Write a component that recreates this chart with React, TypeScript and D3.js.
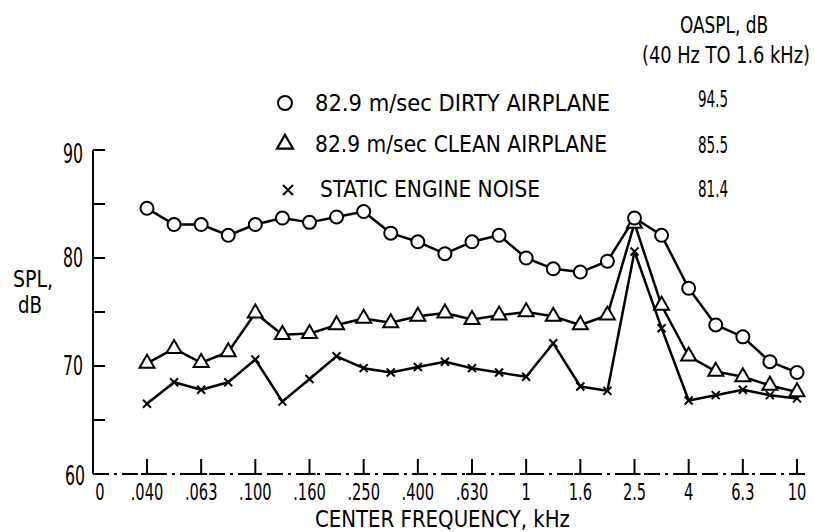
import React, { useLayoutEffect, useRef, useState } from "react";
import * as d3 from "d3";

const bands = [".040", ".050", ".063", ".080", ".100", ".125", ".160", ".200", ".250", ".315", ".400", ".500", ".630", ".800", "1", "1.25", "1.6", "2", "2.5", "3.15", "4", "5", "6.3", "8", "10"];
const tickBands = [".040", ".063", ".100", ".160", ".250", ".400", ".630", "1", "1.6", "2.5", "4", "6.3", "10"];
const dirty = [84.6, 83.1, 83.1, 82.1, 83.1, 83.7, 83.3, 83.8, 84.3, 82.3, 81.5, 80.4, 81.5, 82.1, 80.0, 79.0, 78.7, 79.7, 83.7, 82.1, 77.2, 73.8, 72.7, 70.4, 69.4];
const clean = [70.25, 71.6, 70.3, 71.3, 74.9, 72.9, 73.0, 73.8, 74.4, 74.0, 74.6, 74.9, 74.3, 74.7, 75.0, 74.6, 73.8, 74.7, 83.2, 75.6, 70.9, 69.5, 69.0, 68.2, 67.6];
const staticNoise = [66.5, 68.5, 67.8, 68.5, 70.6, 66.7, 68.8, 70.9, 69.8, 69.4, 69.9, 70.4, 69.8, 69.4, 69.0, 72.1, 68.1, 67.7, 80.6, 73.5, 66.8, 67.3, 67.8, 67.3, 67.0];
const yTicks = [60, 65, 70, 75, 80, 85, 90];
const yLabels = [60, 70, 80, 90];
const legendLabels = ["82.9 m/sec DIRTY AIRPLANE", "82.9 m/sec CLEAN AIRPLANE", "STATIC ENGINE NOISE"];
const legendValues = ["94.5", "85.5", "81.4"];

const FONT = "'Liberation Sans Narrow', 'DejaVu Sans Condensed', 'DejaVu Sans', sans-serif";

function estW(s: string, digit: number) {
  let w = 0;
  for (const c of s) w += c === "." || c === "," ? digit * 0.5 : digit;
  return w;
}

// Text squeezed horizontally to a target width via a scale transform (keeps a true bounding box).
function T(props: { x: number; y: number; w: number; size: number; anchor?: string; children: string }) {
  const { x, y, w, size, anchor = "start", children } = props;
  const ref = useRef<SVGTextElement>(null);
  const [sx, setSx] = useState(0.78);
  useLayoutEffect(() => {
    if (ref.current) {
      const n = ref.current.getComputedTextLength();
      if (n > 0) setSx(w / n);
    }
  }, [w, children, size]);
  return (
    <g transform={`translate(${x},${y}) scale(${sx},1)`}>
      <text ref={ref} x={0} y={0} fontSize={size} fontFamily={FONT} textAnchor={anchor} fill="#000">
        {children}
      </text>
    </g>
  );
}

export default function App() {
  const x = d3.scalePoint<string>().domain(bands).range([147, 797]);
  const y = d3.scaleLinear().domain([60, 90]).range([474, 150]);
  const line = d3
    .line<number>()
    .x((_, i) => x(bands[i]) as number)
    .y((d) => y(d));
  const axisX = 93;
  const axisY = y(60);
  const tri = (cx: number, cy: number, s: number) => {
    const h = (s * Math.sqrt(3)) / 2;
    return `M${cx},${cy - (2 * h) / 3}L${cx + s / 2},${cy + h / 3}L${cx - s / 2},${cy + h / 3}Z`;
  };
  const cross = (cx: number, cy: number, a: number) =>
    `M${cx - a},${cy - a}L${cx + a},${cy + a}M${cx - a},${cy + a}L${cx + a},${cy - a}`;
  const labelDy = (t: number) => (t === 60 ? 11 : t === 90 ? 13 : 9);

  return (
    <svg width={815} height={532} style={{ position: "absolute", left: 0, top: 0, display: "block", background: "#fff" }}>
      <rect width={815} height={532} fill="#fff" />
      {/* header */}
      <T x={680} y={33} w={88} size={23}>OASPL, dB</T>
      <T x={642} y={63} w={168} size={23}>(40 Hz TO 1.6 kHz)</T>
      {/* legend */}
      <circle cx={285} cy={103} r={7} fill="#fff" stroke="#000" strokeWidth={2} />
      <path d={tri(285, 144, 16)} fill="#fff" stroke="#000" strokeWidth={2.2} />
      <path d={cross(288, 190, 5)} stroke="#000" strokeWidth={2} />
      <T x={315} y={111} w={295} size={23}>{legendLabels[0]}</T>
      <T x={315} y={152} w={292} size={23}>{legendLabels[1]}</T>
      <T x={320} y={197} w={220} size={23}>{legendLabels[2]}</T>
      <T x={698} y={107} w={30} size={23}>{legendValues[0]}</T>
      <T x={698} y={153} w={30} size={23}>{legendValues[1]}</T>
      <T x={698} y={197} w={30} size={23}>{legendValues[2]}</T>

      {/* y axis */}
      <line x1={axisX} x2={axisX} y1={y(90)} y2={axisY} stroke="#000" strokeWidth={2} />
      {yTicks.filter((t) => t > 60).map((t) => (
        <line key={t} x1={axisX} x2={axisX + 12} y1={y(t)} y2={y(t)} stroke="#000" strokeWidth={2} />
      ))}
      {yLabels.map((t) => (
        <T key={t} x={t === 60 ? 85 : 83} y={y(t) + labelDy(t)} w={20} size={27} anchor="end">{String(t)}</T>
      ))}
      <T x={13} y={287} w={40} size={23}>SPL,</T>
      <T x={18} y={313} w={24} size={23}>dB</T>

      {/* x axis */}
      <line x1={axisX} x2={805} y1={axisY} y2={axisY} stroke="#000" strokeWidth={2} strokeDasharray="16 5 3 5" />
      {tickBands.map((b) => {
        const tx = x(b) as number;
        return (
          <g key={b}>
            <line x1={tx} x2={tx} y1={axisY} y2={axisY - 15} stroke="#000" strokeWidth={2} />
            <line x1={tx - 6} x2={tx + 6} y1={axisY} y2={axisY} stroke="#000" strokeWidth={2} />
            <T x={tx} y={500} w={estW(b, 9.3)} size={23} anchor="middle">{b}</T>
          </g>
        );
      })}
      <T x={100} y={500} w={9.3} size={23} anchor="middle">0</T>
      <T x={315} y={527} w={255} size={23}>CENTER FREQUENCY, kHz</T>

      {/* series */}
      <path d={line(staticNoise) || ""} fill="none" stroke="#000" strokeWidth={2.5} strokeLinejoin="round" />
      <path d={line(clean) || ""} fill="none" stroke="#000" strokeWidth={2.5} strokeLinejoin="round" />
      <path d={line(dirty) || ""} fill="none" stroke="#000" strokeWidth={2.5} strokeLinejoin="round" />
      {staticNoise.map((v, i) => (
        <path key={"s" + i} d={cross(x(bands[i]) as number, y(v), 4)} stroke="#000" strokeWidth={2} />
      ))}
      {clean.map((v, i) => (
        <path key={"c" + i} d={tri(x(bands[i]) as number, y(v), 15)} fill="#fff" stroke="#000" strokeWidth={2} />
      ))}
      {dirty.map((v, i) => (
        <circle key={"d" + i} cx={x(bands[i]) as number} cy={y(v)} r={6.5} fill="#fff" stroke="#000" strokeWidth={2} />
      ))}
    </svg>
  );
}
